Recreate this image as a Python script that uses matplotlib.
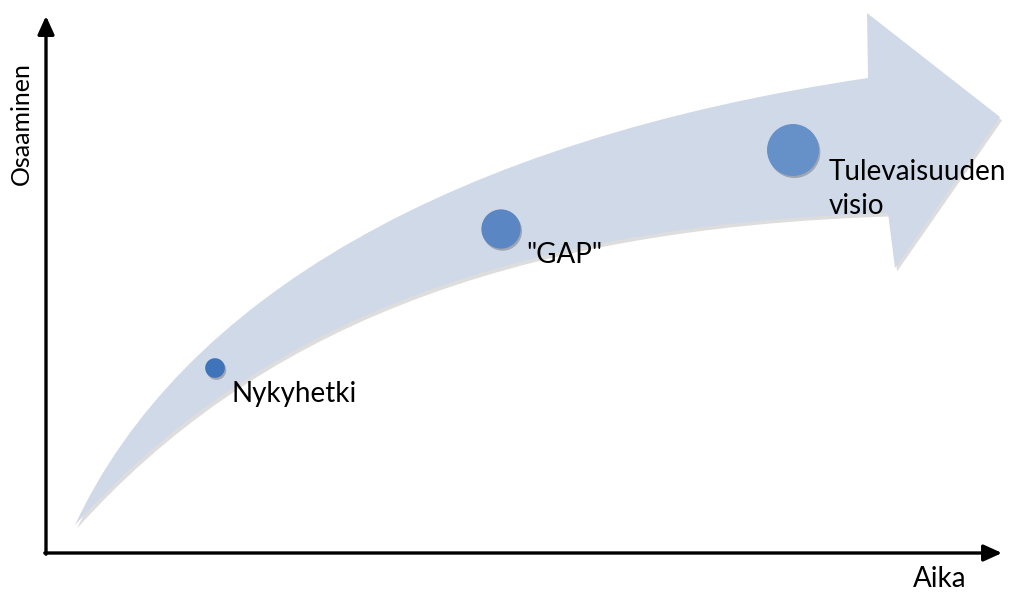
import matplotlib
matplotlib.use("Agg")
import matplotlib.pyplot as plt
from matplotlib.path import Path
from matplotlib.patches import PathPatch
import matplotlib.patheffects as pe

# ---- data (pixel-like coordinates of the conceptual diagram) ----
labels = ["Nykyhetki", '"GAP"', "Tulevaisuuden\nvisio"]
point_x = [215, 501, 793]
point_y = [368, 229, 150]
point_size = [200, 800, 1400]
label_x = [232, 526, 829]
label_y = [394, 255, 189]
axis_x_label = "Aika"
axis_y_label = "Osaaminen"

W, H = 1011, 592
fig = plt.figure(figsize=(W / 100, H / 100), dpi=100)
ax = fig.add_axes([0, 0, 1, 1])
ax.set_xlim(0, W)
ax.set_ylim(H, 0)
ax.axis("off")

font = ["Lato", "DejaVu Sans"]

# ---- curved band arrow ----
verts = [
    (75, 525),
    (180, 300), (450, 140), (868, 78),
    (867, 13),
    (1000, 117),
    (895, 268),
    (888, 213),
    (500, 225), (250, 330), (75, 525),
    (75, 525),
]
codes = [Path.MOVETO,
         Path.CURVE4, Path.CURVE4, Path.CURVE4,
         Path.LINETO, Path.LINETO, Path.LINETO, Path.LINETO,
         Path.CURVE4, Path.CURVE4, Path.CURVE4,
         Path.CLOSEPOLY]
band = PathPatch(Path(verts, codes), facecolor="#D0D9E8", edgecolor="none", zorder=1)
band.set_path_effects([pe.SimplePatchShadow(offset=(1.5, -2.5), alpha=0.2, shadow_rgbFace="#555555"), pe.Normal()])
ax.add_patch(band)

# ---- axes arrows ----
ax.annotate("", xy=(46, 16), xytext=(46, 554.2),
            arrowprops=dict(arrowstyle="-|>,head_length=1.1,head_width=0.5", lw=2.4, color="black",
                            shrinkA=0, shrinkB=0), zorder=3)
ax.annotate("", xy=(1002, 553), xytext=(44.8, 553),
            arrowprops=dict(arrowstyle="-|>,head_length=1.1,head_width=0.5", lw=2.4, color="black",
                            shrinkA=0, shrinkB=0), zorder=3)

ax.text(21, 124, axis_y_label, rotation=90, ha="center", va="center", fontsize=18, family=font)
ax.text(940, 579, axis_x_label, ha="center", va="center", fontsize=20, family=font)

# ---- points ----
colors = ["#3F73BA", "#5A87C4", "#6690C8"]
sc = ax.scatter(point_x, point_y, s=point_size, c=colors, edgecolors="none", zorder=4)
sc.set_path_effects([pe.SimplePatchShadow(offset=(1, -1.5), alpha=0.3, shadow_rgbFace="#333333"), pe.Normal()])

for lx, ly, t in zip(label_x, label_y, labels):
    ax.text(lx, ly, t, ha="left", va="center", fontsize=20, family=font, linespacing=1.35, zorder=5)

fig.savefig("out.png", dpi=100)
